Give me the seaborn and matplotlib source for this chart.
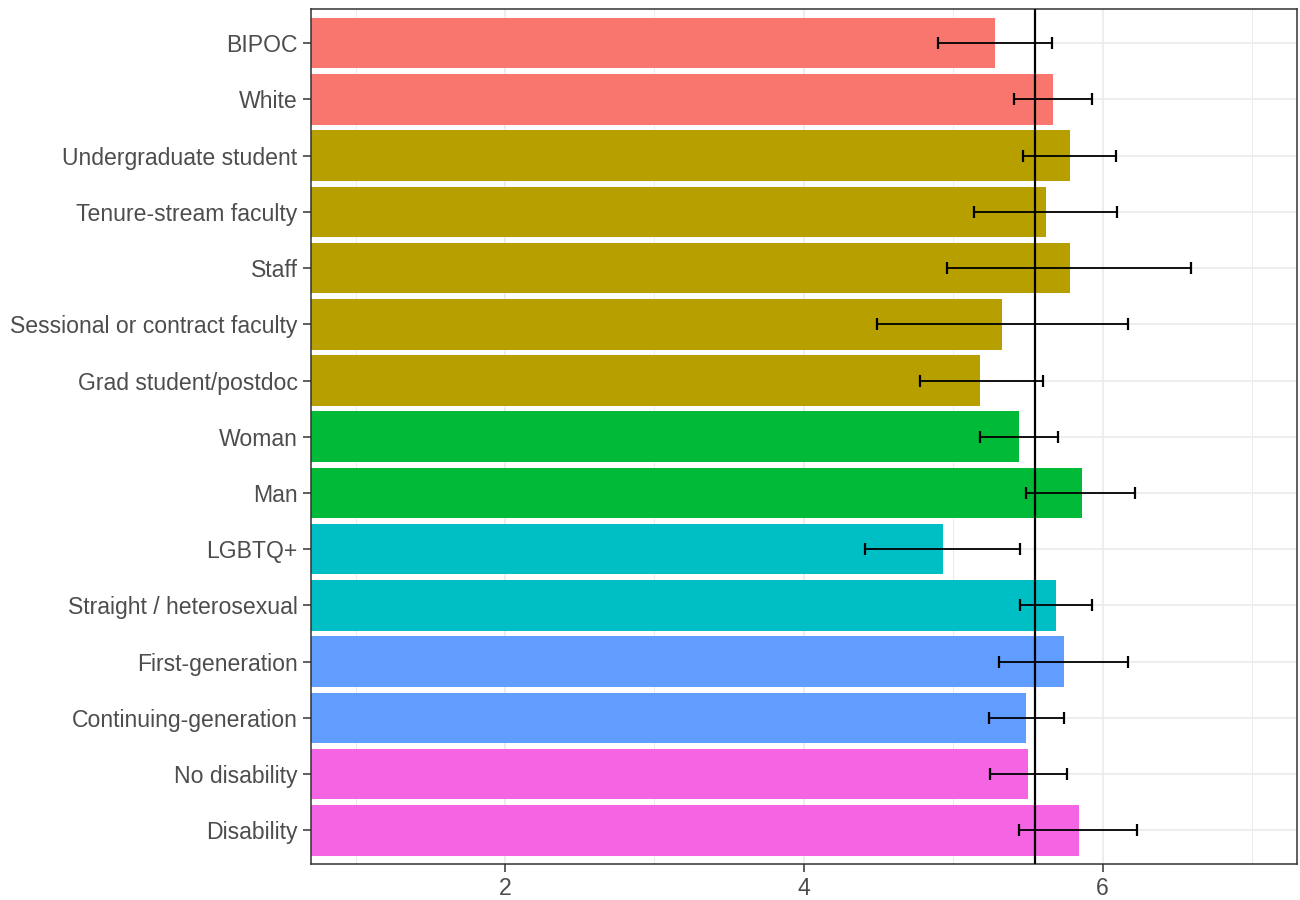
import matplotlib
matplotlib.use("Agg")
import matplotlib.pyplot as plt
import seaborn as sns
import pandas as pd

# values
labels = ["BIPOC", "White",
          "Undergraduate student", "Tenure-stream faculty", "Staff",
          "Sessional or contract faculty", "Grad student/postdoc",
          "Woman", "Man",
          "LGBTQ+", "Straight / heterosexual",
          "First-generation", "Continuing-generation",
          "No disability", "Disability"]
groups = ["Race", "Race",
          "Role", "Role", "Role", "Role", "Role",
          "Gender", "Gender",
          "Sexuality", "Sexuality",
          "Generation", "Generation",
          "Disability", "Disability"]
means = [5.28, 5.67, 5.78, 5.62, 5.78, 5.33, 5.18, 5.44, 5.86, 4.93, 5.69,
         5.74, 5.49, 5.50, 5.84]
ci_low = [4.90, 5.41, 5.47, 5.14, 4.96, 4.49, 4.78, 5.18, 5.49, 4.41, 5.45,
          5.31, 5.24, 5.25, 5.44]
ci_high = [5.66, 5.93, 6.09, 6.10, 6.59, 6.17, 5.60, 5.70, 6.22, 5.45, 5.93,
           6.17, 5.74, 5.76, 6.23]
overall_mean = 5.546

group_order = ["Race", "Role", "Gender", "Sexuality", "Generation", "Disability"]
group_colors = ["#F8766D", "#B79F00", "#00BA38", "#00BFC4", "#619CFF", "#F564E3"]

df = pd.DataFrame({"label": labels, "group": groups, "mean": means,
                   "low": ci_low, "high": ci_high})

sns.set_theme(style="white")
plt.rcParams["font.family"] = ["Liberation Sans", "DejaVu Sans"]

fig = plt.figure(figsize=(13, 9), dpi=100)
ax = fig.add_axes([0.239, 0.040, 0.7585, 0.9495])

sns.barplot(data=df, y="label", x="mean", hue="group", order=labels,
            hue_order=group_order, palette=group_colors, dodge=False,
            width=0.9, legend=False, errorbar=None, saturation=1,
            linewidth=0, ax=ax)

# confidence intervals + overall mean line
ypos = range(len(labels))
xerr = [df["mean"] - df["low"], df["high"] - df["mean"]]
ax.errorbar(df["mean"], ypos, xerr=xerr, fmt="none", ecolor="black",
            elinewidth=1.3, capsize=4, capthick=1.6, zorder=4)
ax.axvline(overall_mean, color="black", lw=1.6, zorder=5)

ax.set_xlim(0.7, 7.3)
ax.set_ylim(len(labels) - 0.4, -0.6)
ax.set_xticks([2, 4, 6])
ax.set_xticks([1, 3, 5, 7], minor=True)
ax.set_xlabel("")
ax.set_ylabel("")

ax.set_axisbelow(True)
ax.grid(which="major", color="#EBEBEB", lw=1.2)
ax.grid(which="minor", axis="x", color="#EBEBEB", lw=0.7)

ax.tick_params(which="major", length=5.5, width=1.1, color="#333333",
               labelsize=16.6, labelcolor="#4D4D4D", pad=4, left=True, bottom=True)
ax.tick_params(which="minor", length=0)
for s in ax.spines.values():
    s.set_visible(True)
    s.set_color("#333333")
    s.set_linewidth(1.1)

fig.savefig("out.png", dpi=100)
